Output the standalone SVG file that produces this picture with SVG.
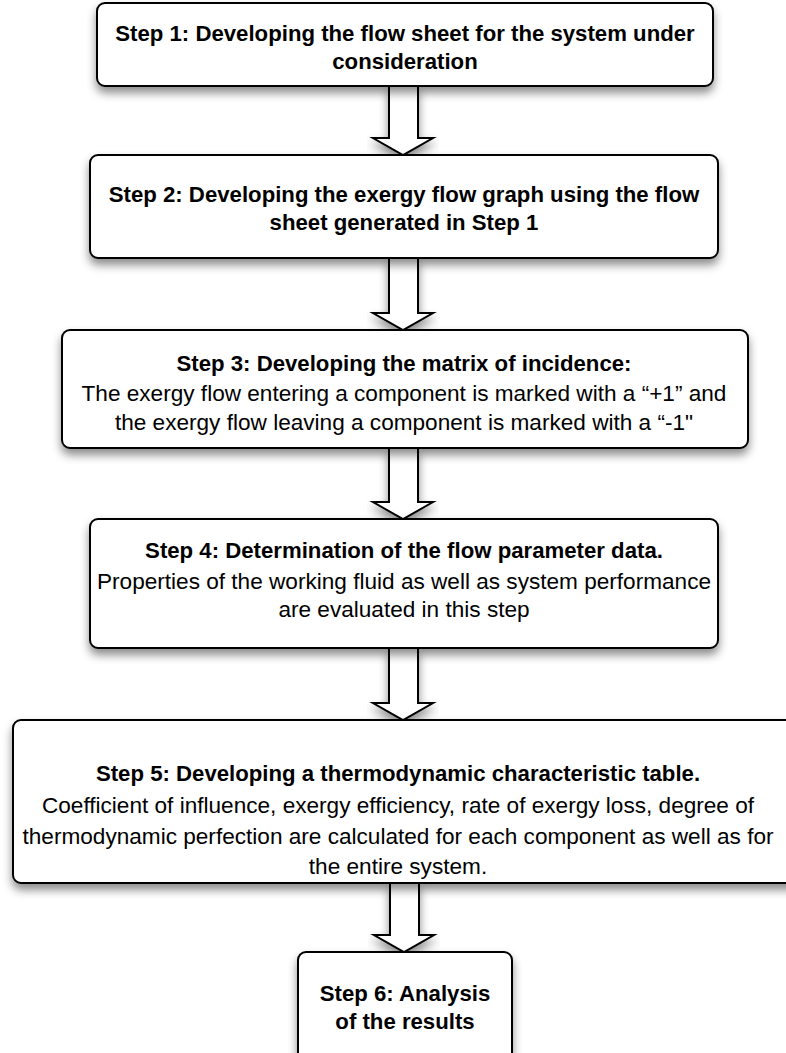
<svg xmlns="http://www.w3.org/2000/svg" width="786" height="1053" viewBox="0 0 786 1053">
<defs>
<filter id="sh" x="-10%" y="-20%" width="120%" height="160%">
<feDropShadow dx="0" dy="6" stdDeviation="5" flood-color="#000" flood-opacity="0.45"/>
</filter>
</defs>
<style>
.box{fill:#fff;stroke:#000;stroke-width:2;filter:url(#sh)}
.arr{fill:#fff;stroke:#000;stroke-width:2;stroke-linejoin:miter;filter:url(#sh)}
text{font-family:"Liberation Sans",Arial,sans-serif;font-size:22.6px;fill:#000;text-anchor:middle}
.b{font-weight:bold;font-size:22.2px}
</style>
<g id="connectors">
<path class="arr" d="M389,86 V138 H373 L403,155 L433,138 H418 V86 Z"/>
<path class="arr" d="M389,258 V313 H373 L403,330 L433,313 H418 V258 Z"/>
<path class="arr" d="M389,448 V502 H373 L403,519 L433,502 H418 V448 Z"/>
<path class="arr" d="M389,648 V703 H373 L403,720 L433,703 H418 V648 Z"/>
<path class="arr" d="M390,883 V935 H374 L404,952 L434,935 H419 V883 Z"/>
</g>
<g id="step1">
<rect class="box" x="97" y="3" width="616" height="83" rx="8"/>
<text class="b" x="405" y="41">Step 1: Developing the flow sheet for the system under</text>
<text class="b" x="405" y="69">consideration</text>
</g>
<g id="step2">
<rect class="box" x="90" y="155" width="628" height="103" rx="8"/>
<text class="b" x="404" y="202">Step 2: Developing the exergy flow graph using the flow</text>
<text class="b" x="404" y="230">sheet generated in Step 1</text>
</g>
<g id="step3">
<rect class="box" x="62" y="330" width="686" height="118" rx="8"/>
<text class="b" x="404" y="371">Step 3: Developing the matrix of incidence:</text>
<text x="404" y="401">The exergy flow entering a component is marked with a “+1” and</text>
<text x="404" y="430">the exergy flow leaving a component is marked with a “-1"</text>
</g>
<g id="step4">
<rect class="box" x="90" y="519" width="628" height="129" rx="8"/>
<text class="b" x="404" y="558">Step 4: Determination of the flow parameter data.</text>
<text x="404" y="589">Properties of the working fluid as well as system performance</text>
<text x="404" y="617">are evaluated in this step</text>
</g>
<g id="step5">
<rect class="box" x="13" y="720" width="790" height="163" rx="8"/>
<text class="b" x="398" y="781">Step 5: Developing a thermodynamic characteristic table.</text>
<text x="398" y="813">Coefficient of influence, exergy efficiency, rate of exergy loss, degree of</text>
<text x="398" y="844">thermodynamic perfection are calculated for each component as well as for</text>
<text x="398" y="874">the entire system.</text>
</g>
<g id="step6">
<rect class="box" x="298" y="952" width="214" height="120" rx="8"/>
<text class="b" x="405" y="1001">Step 6: Analysis</text>
<text class="b" x="405" y="1029">of the results</text>
</g>
</svg>
